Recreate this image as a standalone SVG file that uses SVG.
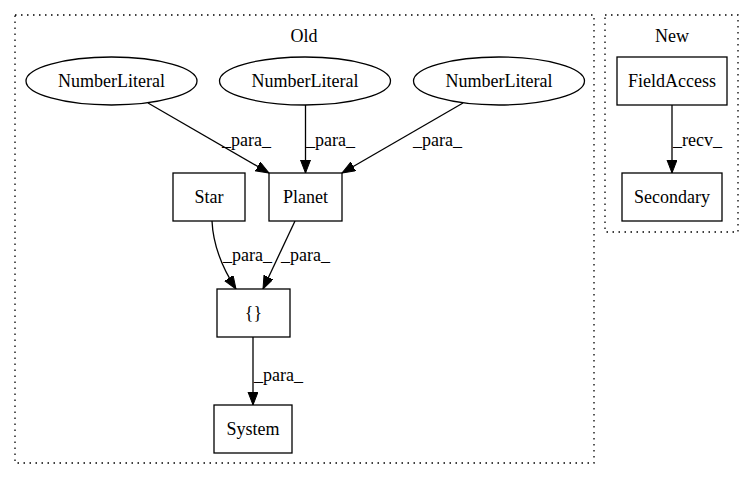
<svg xmlns="http://www.w3.org/2000/svg" width="755" height="480" viewBox="0 0 755 480">
<defs>
<marker id="arr" markerUnits="userSpaceOnUse" markerWidth="15" markerHeight="12" refX="13" refY="5" orient="auto">
<path d="M0,0 L13,5 L0,10 z" fill="#000" stroke="#000" stroke-width="1"/>
</marker>
</defs>
<style>
.cl{fill:none;stroke:#000;stroke-width:1.3;stroke-dasharray:1.5,4.5}
.nd{fill:#fff;stroke:#000;stroke-width:1.3}
.t{font-family:"Liberation Serif","Times New Roman",serif;font-size:18px;fill:#000;text-anchor:middle}
.l{font-family:"Liberation Serif","Times New Roman",serif;font-size:18px;fill:#000}
.e{fill:none;stroke:#000;stroke-width:1.3;marker-end:url(#arr)}
</style>
<rect width="755" height="480" fill="#fff"/>
<g id="cluster_old">
<rect class="cl" x="15" y="15" width="579" height="448"/>
<text class="t" x="304" y="42">Old</text>
</g>
<g id="cluster_new">
<rect class="cl" x="605" y="15" width="133" height="217"/>
<text class="t" x="672" y="42">New</text>
</g>
<g id="connectors">
<path class="e" d="M148,103 L269,173"/>
<path class="e" d="M305.5,105 L305.5,173"/>
<path class="e" d="M463,103 L342,173"/>
<path class="e" d="M212,221 C213,243 221,266 236,289"/>
<path class="e" d="M295,221 L263,289"/>
<path class="e" d="M253,337 L253,405"/>
<path class="e" d="M672,105 L672,173"/>
<text class="l" x="222" y="146">_para_</text>
<text class="l" x="306" y="146">_para_</text>
<text class="l" x="413" y="146">_para_</text>
<text class="l" x="223" y="261">_para_</text>
<text class="l" x="281" y="261">_para_</text>
<text class="l" x="254" y="381">_para_</text>
<text class="l" x="673" y="146">_recv_</text>
</g>
<g id="nl1"><ellipse class="nd" cx="111.5" cy="81" rx="85.5" ry="24"/><text class="t" x="111.5" y="87">NumberLiteral</text></g>
<g id="nl2"><ellipse class="nd" cx="305" cy="81" rx="85.5" ry="24"/><text class="t" x="305" y="87">NumberLiteral</text></g>
<g id="nl3"><ellipse class="nd" cx="499" cy="81" rx="85.5" ry="24"/><text class="t" x="499" y="87">NumberLiteral</text></g>
<g id="star"><rect class="nd" x="173" y="173" width="72" height="48"/><text class="t" x="209" y="203">Star</text></g>
<g id="planet"><rect class="nd" x="269" y="173" width="73" height="48"/><text class="t" x="305.5" y="203">Planet</text></g>
<g id="braces"><rect class="nd" x="217" y="289" width="73" height="48"/><text class="t" x="253.5" y="319">{}</text></g>
<g id="system"><rect class="nd" x="214" y="405" width="78" height="48"/><text class="t" x="253" y="435">System</text></g>
<g id="fieldaccess"><rect class="nd" x="617" y="57" width="110" height="48"/><text class="t" x="672" y="87">FieldAccess</text></g>
<g id="secondary"><rect class="nd" x="622" y="173" width="100" height="48"/><text class="t" x="672" y="203">Secondary</text></g>
</svg>
